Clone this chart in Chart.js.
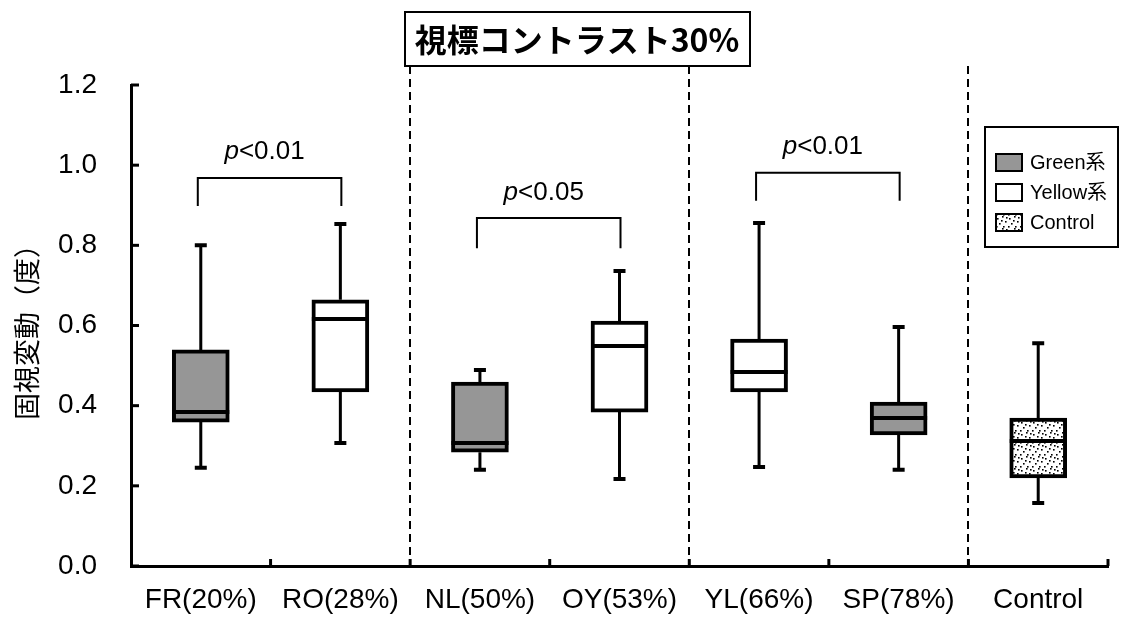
<!DOCTYPE html>
<html>
<head>
<meta charset="utf-8">
<script src="https://cdn.jsdelivr.net/npm/chart.js"></script>
<style>
  html, body { margin: 0; padding: 0; background: #fff; }
</style>
</head>
<body>
<canvas id="myChart" width="1125" height="619"></canvas>
<script>
// box plot data
const categories = ['FR(20%)', 'RO(28%)', 'NL(50%)', 'OY(53%)', 'YL(66%)', 'SP(78%)', 'Control'];
const groups = ['green', 'yellow', 'green', 'yellow', 'yellow', 'green', 'control'];
const minValues = [0.245, 0.307, 0.240, 0.217, 0.247, 0.240, 0.157];
const q1Values = [0.359, 0.434, 0.284, 0.384, 0.434, 0.327, 0.220];
const medianValues = [0.384, 0.616, 0.307, 0.549, 0.484, 0.369, 0.312];
const q3Values = [0.539, 0.664, 0.459, 0.611, 0.566, 0.409, 0.369];
const maxValues = [0.800, 0.853, 0.489, 0.736, 0.856, 0.596, 0.556];
const yTicks = [0, 0.2, 0.4, 0.6, 0.8, 1.0, 1.2];

// significance brackets
const bracketFrom = [0, 2, 4];
const bracketTo = [1, 3, 5];
const bracketTop = [0.968, 0.868, 0.981];
const bracketLeg = [0.898, 0.793, 0.911];
const bracketText = ['<0.01', '<0.05', '<0.01'];
const bracketTextY = [1.033, 0.931, 1.045];

// dashed separators after these categories
const separatorsAfter = [1, 3, 5];

const legendLabels = ['Green系', 'Yellow系', 'Control'];
const legendGroups = ['green', 'yellow', 'control'];
const titleText = '視標コントラスト30%';

const FONT = '"Liberation Sans", Arial, "Noto Sans CJK JP", sans-serif';
const canvas = document.getElementById('myChart');
const g = canvas.getContext('2d');

function dotPattern() {
  const c = document.createElement('canvas');
  c.width = 12; c.height = 12;
  const p = c.getContext('2d');
  p.fillStyle = '#fff';
  p.fillRect(0, 0, 12, 12);
  p.fillStyle = '#000';
  [[1, 2], [6, 0], [9, 5], [3, 7], [7, 10], [0, 10], [10, 1], [5, 4]].forEach(([a, b]) => p.fillRect(a, b, 1.6, 1.6));
  return g.createPattern(c, 'repeat');
}
const fills = { green: '#969696', yellow: '#ffffff', control: dotPattern() };

const extras = {
  id: 'extras',
  beforeDatasetsDraw(chart) {
    const { ctx, chartArea, scales: { x, y } } = chart;
    ctx.save();
    ctx.strokeStyle = '#000';
    // dashed separators
    ctx.lineWidth = 2;
    ctx.setLineDash([8, 5]);
    separatorsAfter.forEach(i => {
      const px = Math.round((x.getPixelForValue(i) + x.getPixelForValue(i + 1)) / 2);
      ctx.beginPath();
      ctx.moveTo(px, 66);
      ctx.lineTo(px, chartArea.bottom);
      ctx.stroke();
    });
    ctx.setLineDash([]);
    // whiskers + caps
    categories.forEach((c, i) => {
      const px = x.getPixelForValue(i);
      const yMax = y.getPixelForValue(maxValues[i]);
      const yMin = y.getPixelForValue(minValues[i]);
      ctx.lineWidth = 3;
      ctx.beginPath();
      ctx.moveTo(px, yMax); ctx.lineTo(px, y.getPixelForValue(q3Values[i]));
      ctx.moveTo(px, y.getPixelForValue(q1Values[i])); ctx.lineTo(px, yMin);
      ctx.stroke();
      ctx.lineWidth = 4;
      ctx.beginPath();
      ctx.moveTo(px - 6, yMax); ctx.lineTo(px + 6, yMax);
      ctx.moveTo(px - 6, yMin); ctx.lineTo(px + 6, yMin);
      ctx.stroke();
    });
    ctx.restore();
  },
  afterDatasetsDraw(chart) {
    const { ctx, chartArea, scales: { x, y } } = chart;
    const meta = chart.getDatasetMeta(0);
    ctx.save();
    ctx.strokeStyle = '#000';
    ctx.fillStyle = '#000';

    // medians
    ctx.lineWidth = 4;
    meta.data.forEach((bar, i) => {
      const py = y.getPixelForValue(medianValues[i]);
      ctx.beginPath();
      ctx.moveTo(bar.x - bar.width / 2, py);
      ctx.lineTo(bar.x + bar.width / 2, py);
      ctx.stroke();
    });

    // inward ticks
    ctx.lineWidth = 3;
    yTicks.forEach(v => {
      const py = y.getPixelForValue(v);
      ctx.beginPath();
      ctx.moveTo(chartArea.left, py);
      ctx.lineTo(chartArea.left + 8, py);
      ctx.stroke();
    });
    for (let i = 0; i < categories.length; i++) {
      const px = i < categories.length - 1
        ? (x.getPixelForValue(i) + x.getPixelForValue(i + 1)) / 2
        : chartArea.right;
      ctx.beginPath();
      ctx.moveTo(px, chartArea.bottom);
      ctx.lineTo(px, chartArea.bottom - 7);
      ctx.stroke();
    }

    // brackets
    ctx.lineWidth = 2;
    bracketFrom.forEach((a, k) => {
      const x1 = x.getPixelForValue(a) - 3;
      const x2 = x.getPixelForValue(bracketTo[k]) + 1;
      const yt = y.getPixelForValue(bracketTop[k]);
      const yl = y.getPixelForValue(bracketLeg[k]);
      ctx.beginPath();
      ctx.moveTo(x1, yl); ctx.lineTo(x1, yt); ctx.lineTo(x2, yt); ctx.lineTo(x2, yl);
      ctx.stroke();
      const ty = y.getPixelForValue(bracketTextY[k]);
      ctx.textBaseline = 'middle';
      ctx.textAlign = 'left';
      ctx.font = 'italic 26px ' + FONT;
      const wp = ctx.measureText('p').width;
      ctx.font = '26px ' + FONT;
      const wr = ctx.measureText(bracketText[k]).width;
      const sx = (x1 + x2) / 2 - (wp + wr) / 2 - 5;
      ctx.font = 'italic 26px ' + FONT;
      ctx.fillText('p', sx, ty);
      ctx.font = '26px ' + FONT;
      ctx.fillText(bracketText[k], sx + wp, ty);
    });

    // legend
    ctx.lineWidth = 2;
    ctx.strokeRect(985, 127, 133, 120);
    ctx.font = '20px ' + FONT;
    ctx.textAlign = 'left';
    ctx.textBaseline = 'middle';
    legendLabels.forEach((lab, k) => {
      const cy = 162 + k * 30;
      ctx.fillStyle = fills[legendGroups[k]];
      ctx.fillRect(996, cy - 8, 26, 17);
      ctx.strokeRect(996, cy - 8, 26, 17);
      ctx.fillStyle = '#000';
      ctx.fillText(lab, 1030, cy + 1);
    });

    // title box
    ctx.fillStyle = '#fff';
    ctx.fillRect(405, 12, 345, 54);
    ctx.strokeRect(405, 12, 345, 54);
    ctx.fillStyle = '#000';
    ctx.font = 'bold 32px "Noto Sans CJK JP", sans-serif';
    ctx.textAlign = 'center';
    ctx.fillText(titleText, 577, 40);
    ctx.restore();
  }
};

new Chart(g, {
  type: 'bar',
  data: {
    labels: categories,
    datasets: [{
      data: categories.map((c, i) => [q1Values[i], q3Values[i]]),
      backgroundColor: groups.map(k => fills[k]),
      borderColor: '#000',
      borderWidth: 4,
      borderSkipped: false,
      barThickness: 57
    }]
  },
  options: {
    responsive: false,
    animation: false,
    layout: { padding: { top: 85, right: 17, bottom: 0, left: 0 } },
    plugins: {
      legend: { display: false },
      tooltip: { enabled: false }
    },
    scales: {
      x: {
        grid: { display: false, drawTicks: false },
        border: { display: true, color: '#000', width: 3 },
        ticks: { color: '#000', font: { family: FONT, size: 28 }, padding: 17, maxRotation: 0, autoSkip: false },
        afterFit: s => { s.height = 53; }
      },
      y: {
        min: 0,
        max: 1.2,
        grid: { display: false, drawTicks: false },
        border: { display: true, color: '#000', width: 3 },
        ticks: { stepSize: 0.2, color: '#000', font: { family: FONT, size: 28 }, padding: 34, callback: v => Number(v).toFixed(1) },
        title: { display: true, text: '固視変動（度）', color: '#000', font: { family: '"Noto Sans CJK JP", sans-serif', size: 27 }, padding: { top: 11, bottom: 0 } },
        afterFit: s => { s.width = 131; }
      }
    }
  },
  plugins: [extras]
});
</script>
</body>
</html>
